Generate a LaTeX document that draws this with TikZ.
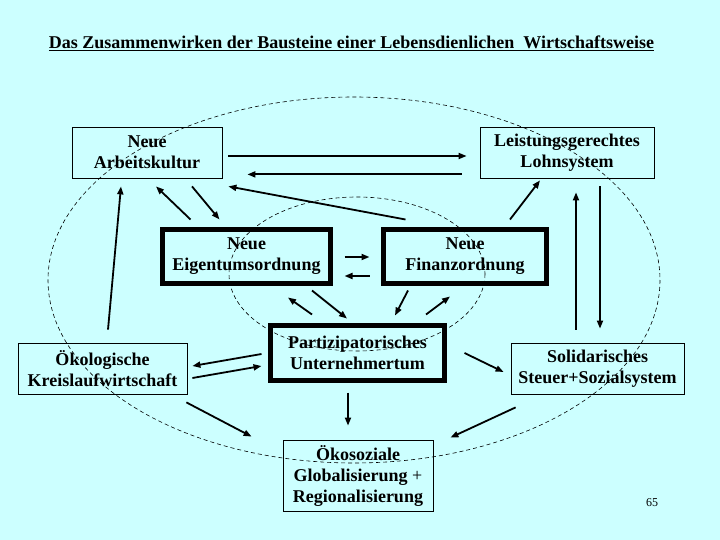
\documentclass[tikz,border=0pt]{standalone}
\usepackage{fontspec}
\setmainfont{Liberation Serif}
\usetikzlibrary{arrows.meta,calc}
\definecolor{bgcyan}{RGB}{204,255,255}

\begin{document}
\begin{tikzpicture}[x=1pt,y=-1pt,
  thinbox/.style={draw, line width=0.8pt, inner sep=0pt, align=center, font=\bfseries\fontsize{18}{21}\selectfont},
  thickbox/.style={thinbox, line width=5pt},
  link/.style={line width=1.8pt, -{Triangle[length=8pt,width=6pt]}},
  orbit/.style={line width=0.6pt, dash pattern=on 4pt off 3pt}]
\useasboundingbox[fill=bgcyan] (0,0) rectangle (720,540);
\node[font=\bfseries\fontsize{18}{21}\selectfont, anchor=base] (title) at (351.5,49) {\underline{Das Zusammenwirken der Bausteine einer Lebensdienlichen\ \ Wirtschaftsweise}};
\draw[orbit] (354,280) ellipse [x radius=306, y radius=183];
\draw[orbit] (357,274) ellipse [x radius=128, y radius=77];
\node[thinbox, minimum width=150pt, minimum height=51pt] (ak) at (147,152.5) {Neue\\Arbeitskultur};
\node[thinbox, minimum width=174pt, minimum height=51pt] (ls) at (567,152.5) {Leistungsgerechtes\\Lohnsystem};
\node[thickbox, minimum width=168pt, minimum height=54pt] (eo) at (246.5,256.5) {Neue\\Eigentumsordnung};
\node[thickbox, minimum width=163pt, minimum height=54pt] (fo) at (465,256.5) {Neue\\Finanzordnung};
\node[thickbox, minimum width=174pt, minimum height=55pt] (pu) at (357.5,353) {Partizipatorisches\\Unternehmertum};
\node[thinbox, minimum width=169pt, minimum height=51pt] (ok) at (102.5,368.5) {Ökologische\\Kreislaufwirtschaft};
\node[thinbox, minimum width=173pt, minimum height=51pt] (ss) at (597.5,368.5) {Solidarisches\\Steuer+Sozialsystem};
\node[thinbox, minimum width=150pt, minimum height=71pt] (og) at (358,475.5) {Ökosoziale\\Globalisierung {\mdseries+}\\Regionalisierung};
\node[font=\fontsize{12}{14}\selectfont] (pg) at (652,503) {65};
% upper row
\draw[link] ($(ak.east)+(6,3.5)$) -- ($(ls.west)+(-13,3.5)$);
\draw[link] ($(ls.south west)+(-18,-4)$) -- ($(ak.south east)+(25,-4)$);
\draw[link] ($(fo.north west)+(24.5,-7.5)$) -- ($(ak.south east)+(6,8)$);
\draw[link] ($(eo.north west)+(30.5,-7.5)$) -- ($(ak.south)+(9,8)$);
\draw[link] ($(ak.south)+(45,8)$) -- ($(eo.north west)+(59.5,-7.5)$);
\draw[link] ($(ok.north)+(5.5,-13)$) -- ($(ak.south)+(-26,8)$);
\draw[link] ($(fo.north)+(45,-7.5)$) -- ($(ls.south)+(-27,2)$);
\draw[link] ($(ss.north)+(-21.5,-13)$) -- ($(ls.south)+(9,14)$);
\draw[link] ($(ls.south)+(33,8)$) -- ($(ss.north)+(2.5,-14)$);
% inner ring
\draw[link] ($(eo.east)+(11.5,0.5)$) -- ($(fo.west)+(-11.5,0.5)$);
\draw[link] ($(fo.west)+(-11.5,19.5)$) -- ($(eo.east)+(11.5,19.5)$);
\draw[link] ($(pu.north)+(-45.5,-8.5)$) -- ($(eo.south)+(41.5,11.5)$);
\draw[link] ($(eo.south)+(65.5,4.5)$) -- ($(pu.north)+(-10.5,-4.5)$);
\draw[link] ($(fo.south)+(-57,4.5)$) -- ($(pu.north)+(37.5,-7.5)$);
\draw[link] ($(pu.north)+(68.5,-8.5)$) -- ($(fo.south)+(-15,10.5)$);
% lower row
\draw[link] ($(pu.west)+(-6.5,1)$) -- ($(ok.east)+(5,-2.5)$);
\draw[link] ($(ok.east)+(5,9.5)$) -- ($(pu.west)+(-6.5,13)$);
\draw[link] ($(pu.east)+(17.5,0)$) -- ($(ss.west)+(-7,3.5)$);
\draw[link] ($(pu.south)+(-9.5,9.5)$) -- ($(og.north)+(-10,-14)$);
\draw[link] ($(ok.south east)+(-1,8)$) -- ($(og.north west)+(-31,-3)$);
\draw[link] ($(ss.south west)+(5,13)$) -- ($(og.north east)+(17,-2)$);
\end{tikzpicture}
\end{document}
